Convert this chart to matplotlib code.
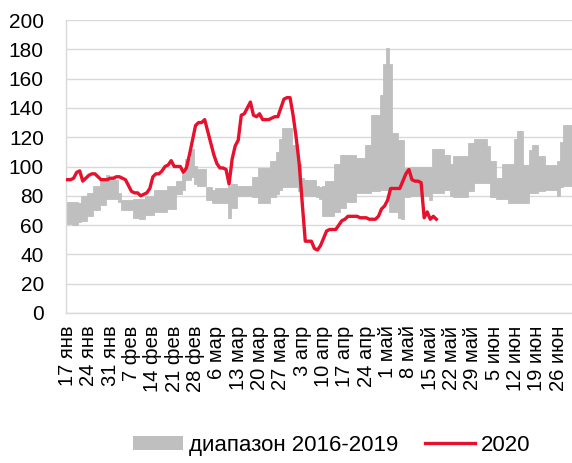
import numpy as np
import matplotlib
matplotlib.use("Agg")
import matplotlib.pyplot as plt
from matplotlib.patches import Patch
from matplotlib.lines import Line2D

plt.rcParams['font.family'] = ['Liberation Sans', 'DejaVu Sans']

# -------- DATA (daily, starting 17 Jan) --------
range_low = [
    61, 61, 60, 60, 62, 63, 63, 66, 66, 70,
    70, 74, 74, 78, 78, 78, 78, 76, 70, 70,
    70, 70, 65, 65, 64, 64, 67, 67, 67, 69,
    69, 69, 69, 71, 71, 71, 81, 81, 84, 91,
    91, 93, 88, 87, 87, 87, 77, 77, 75, 75,
    75, 75, 75, 65, 72, 72, 80, 80, 80, 80,
    80, 79, 79, 75, 75, 75, 75, 79, 79, 81,
    84, 86, 86, 86, 86, 86, 83, 80, 80, 80,
    80, 80, 79, 78, 66, 66, 66, 66, 69, 69,
    72, 72, 76, 76, 76, 82, 82, 82, 82, 82,
    83, 83, 83, 84, 84, 84, 69, 69, 69, 65,
    64, 79, 79, 80, 80, 80, 80, 80, 80, 77,
    82, 82, 82, 82, 84, 84, 80, 79, 79, 79,
    79, 79, 83, 83, 89, 89, 89, 89, 89, 79,
    79, 78, 78, 78, 78, 75, 75, 75, 75, 75,
    75, 75, 82, 82, 82, 83, 83, 84, 84, 84,
    84, 80, 86, 87, 87, 87,
]
range_high = [
    76, 76, 76, 76, 75, 80, 80, 82, 82, 87,
    87, 92, 92, 94, 92, 92, 91, 82, 77, 77,
    77, 77, 78, 78, 78, 78, 80, 80, 80, 84,
    84, 84, 84, 87, 87, 87, 90, 90, 95, 105,
    105, 112, 100, 98, 98, 98, 86, 86, 84, 85,
    85, 85, 85, 87, 88, 88, 87, 87, 87, 87,
    87, 93, 93, 99, 99, 99, 99, 104, 104, 110,
    119, 126, 126, 126, 115, 115, 102, 92, 91, 91,
    91, 91, 87, 86, 87, 90, 90, 90, 102, 102,
    108, 108, 108, 108, 108, 106, 106, 106, 115, 115,
    135, 135, 135, 149, 170, 181, 170, 123, 123, 118,
    118, 99, 99, 100, 100, 100, 100, 100, 100, 100,
    112, 112, 112, 112, 108, 108, 102, 107, 107, 107,
    107, 107, 116, 116, 119, 119, 119, 119, 114, 104,
    104, 92, 92, 102, 102, 102, 102, 119, 124, 124,
    101, 101, 111, 115, 115, 107, 107, 101, 101, 101,
    101, 104, 117, 128, 128, 128,
]
values_2020 = [
    91, 91, 92, 96, 97, 90, 92, 94, 95, 95,
    93, 91, 91, 91, 92, 92, 93, 93, 92, 91,
    87, 83, 82, 82, 80, 81, 82, 85, 93, 95,
    95, 97, 100, 101, 104, 100, 100, 100, 96, 99,
    108, 118, 128, 130, 130, 132, 124, 116, 108, 102,
    99, 99, 98, 88, 105, 114, 118, 135, 136, 140,
    144, 135, 134, 136, 132, 132, 132, 133, 134, 134,
    140, 146, 147, 147, 135, 120, 102, 75, 49, 49,
    49, 44, 43, 46, 51, 56, 57, 57, 57, 60,
    63, 64, 66, 66, 66, 66, 65, 65, 65, 64,
    64, 64, 66, 71, 73, 77, 85, 85, 85, 85,
    90, 95, 98, 91, 90, 90, 89, 65, 69, 64,
    66, 64,
]
tick_labels = [
    "17 янв", "24 янв", "31 янв", "7 фев", "14 фев", "21 фев", "28 фев",
    "6 мар", "13 мар", "20 мар", "27 мар", "3 апр", "10 апр", "17 апр",
    "24 апр", "1 май", "8 май", "15 май", "22 май", "29 май", "5 июн",
    "12 июн", "19 июн", "26 июн",
]

GRAY = "#bfbfbf"
RED = "#e8112d"
GRID = "#d9d9d9"

lo = np.array(range_low)
hi = np.array(range_high)
days = np.arange(len(lo))

fig = plt.figure(figsize=(5.72, 4.63), dpi=100)
ax = fig.add_axes([66 / 572, 150 / 463, 506 / 572, 293 / 463])

# -------- RANGE BAND + 2020 LINE --------
ax.bar(days, hi - lo, bottom=lo, width=1.0, color=GRAY, edgecolor=GRAY,
       linewidth=0.6, zorder=2)
ax.plot(np.arange(len(values_2020)), values_2020, color=RED, lw=2.4, zorder=3,
        solid_joinstyle="round")

ax.set_xlim(-0.5, len(lo) - 0.5)
ax.set_ylim(0, 200)
ax.set_yticks(range(0, 201, 20))
ax.set_xticks(np.arange(len(tick_labels)) * 7)
ax.set_xticklabels(tick_labels, rotation=90, fontsize=14.5)
ax.tick_params(axis="y", length=0, pad=16, labelsize=15)
ax.tick_params(axis="x", length=0, pad=9)

ax.grid(axis="y", color=GRID, lw=1, zorder=0)
ax.set_axisbelow(True)
for side in ["top", "right"]:
    ax.spines[side].set_visible(False)
for side in ["left", "bottom"]:
    ax.spines[side].set_color(GRID)
    ax.spines[side].set_linewidth(1)

# -------- LEGEND --------
handles = [Patch(facecolor=GRAY, edgecolor="none"),
           Line2D([0], [0], color=RED, lw=2.4)]
fig.legend(handles, ["диапазон 2016-2019", "2020"], loc="lower center",
           bbox_to_anchor=(0.58, -0.018), ncol=2, frameon=False, fontsize=16,
           handlelength=2.25, handleheight=0.6, handletextpad=0.25,
           columnspacing=1.2, borderpad=0.2)

fig.savefig("out.png", dpi=100)
